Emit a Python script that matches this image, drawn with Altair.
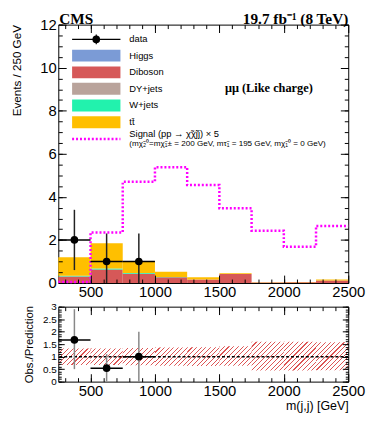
import math
import altair as alt
import pandas as pd

# ---------------- data ----------------
bin_lo = [250, 500, 750, 1000, 1250, 1500, 1750, 2000, 2250]
bin_hi = [500, 750, 1000, 1250, 1500, 1750, 2000, 2250, 2500]
diboson = [0.30, 0.63, 0.43, 0.27, 0.16, 0.42, 0.02, 0.03, 0.12]
dyjets = [0.0, 0.0, 0.0, 0.0, 0.0, 0.0, 0.0, 0.0, 0.0]
wjets = [0.04, 0.04, 0.03, 0.01, 0.0, 0.0, 0.0, 0.0, 0.0]
higgs = [0.0, 0.0, 0.0, 0.0, 0.0, 0.0, 0.0, 0.0, 0.0]
ttbar = [0.86, 1.18, 0.54, 0.24, 0.11, 0.03, 0.02, 0.02, 0.04]
signal = [0.05, 2.35, 4.70, 5.38, 4.55, 3.47, 2.43, 1.68, 2.65]

data_x = [375, 625, 875]
data_xlo = [250, 500, 750]
data_xhi = [500, 750, 1000]
data_y = [2, 1, 1]
data_lo = [0.6, 0.0, 0.0]
data_hi = [3.4, 2.3, 2.3]

ratio_y = [1.67, 0.54, 1.0]
ratio_lo = [0.5, 0.0, 0.0]
ratio_hi = [2.9, 1.1, 2.0]
band_lo = [0.67, 0.67, 0.66, 0.64, 0.63, 0.64, 0.45, 0.45, 0.46]
band_hi = [1.33, 1.33, 1.35, 1.37, 1.38, 1.42, 1.60, 1.60, 1.58]

proc_names = ["Higgs", "Diboson", "DY+jets", "W+jets", "tt\u0304"]
proc_colors = ["#7b9bd6", "#d65858", "#b9a39b", "#22f2ad", "#ffbf00"]
stack_order = ["Diboson", "DY+jets", "W+jets", "Higgs", "tt\u0304"]
proc_values = {"Higgs": higgs, "Diboson": diboson, "DY+jets": dyjets,
               "W+jets": wjets, "tt\u0304": ttbar}

x_major = [500, 1000, 1500, 2000, 2500]
x_minor = list(range(300, 2500, 100))
y_major = [0, 2, 4, 6, 8, 10, 12]
y_minor = [v / 2 for v in range(0, 25)]
r_major = [0, 0.5, 1, 1.5, 2, 2.5, 3]
r_minor = [v / 10 for v in range(0, 31)]

# ---------------- frames ----------------
rows = []
cum = [0.0] * 9
for p in stack_order:
    vals = proc_values[p]
    for i in range(9):
        rows.append(dict(proc=p, lo=bin_lo[i], hi=bin_hi[i], y0=cum[i], y1=cum[i] + vals[i]))
        cum[i] += vals[i]
stack_df = pd.DataFrame(rows)

sig_df = pd.DataFrame({"x": bin_lo + [bin_hi[-1]], "y": signal + [signal[-1]]})
dat_df = pd.DataFrame(dict(x=data_x, xlo=data_xlo, xhi=data_xhi, y=data_y, lo=data_lo, hi=data_hi))
rat_df = pd.DataFrame(dict(x=data_x, xlo=data_xlo, xhi=data_xhi, y=ratio_y, lo=ratio_lo, hi=ratio_hi))
dummy = pd.DataFrame({"x": [250], "y": [0]})

PW, PH = 294, 262
RW, RH = 294, 76
FONT = "Liberation Sans"
SERIF = "Liberation Serif"

xs = alt.Scale(domain=[250, 2500], nice=False, zero=False)
ys = alt.Scale(domain=[0, 12], nice=False)
rys = alt.Scale(domain=[0, 3], nice=False)


def ax(orient, values, size, labels=False, **kw):
    a = dict(orient=orient, values=values, tickSize=size, offset=-size, domain=False,
             grid=False, ticks=True, tickColor="black", tickWidth=1, labels=labels,
             zindex=1, title=None)
    if labels:
        a.update(labelFont=FONT, labelColor="black", labelFlush=False,
                 labelOverlap=False, labelPadding=2)
    a.update(kw)
    return alt.Axis(**a)


def axis_layers(ysc, ymaj, ymin, ymajlen, yminlen, xlab, ylab, xkw, ykw, yfmt):
    L = []
    L.append(alt.Chart(dummy).mark_point(opacity=0).encode(
        x=alt.X("x:Q", scale=xs, axis=ax("bottom", x_major, 8, labels=True,
                                          labelFontSize=xlab, format="d", **xkw)),
        y=alt.Y("y:Q", scale=ysc, axis=ax("left", ymaj, ymajlen, labels=True,
                                           labelFontSize=ylab, format=yfmt, **ykw))))
    L.append(alt.Chart(dummy).mark_point(opacity=0).encode(
        x=alt.X("x:Q", scale=xs, axis=ax("bottom", x_minor, 4)),
        y=alt.Y("y:Q", scale=ysc, axis=ax("left", ymin, yminlen))))
    L.append(alt.Chart(dummy).mark_point(opacity=0).encode(
        x=alt.X("x:Q", scale=xs, axis=ax("top", x_major, 8)),
        y=alt.Y("y:Q", scale=ysc, axis=ax("right", ymaj, ymajlen))))
    L.append(alt.Chart(dummy).mark_point(opacity=0).encode(
        x=alt.X("x:Q", scale=xs, axis=ax("top", x_minor, 4)),
        y=alt.Y("y:Q", scale=ysc, axis=ax("right", ymin, yminlen))))
    return L


# ---------------- top panel ----------------
bars = alt.Chart(stack_df).mark_rect().encode(
    x=alt.X("lo:Q", scale=xs, axis=None), x2="hi",
    y=alt.Y("y0:Q", scale=ys, axis=None), y2="y1",
    color=alt.Color("proc:N", scale=alt.Scale(domain=proc_names, range=proc_colors), legend=None))

sig = alt.Chart(sig_df).mark_line(interpolate="step-after", color="#ff00ff",
                                  strokeDash=[2, 2], strokeWidth=2.5).encode(
    x=alt.X("x:Q", scale=xs, axis=None), y=alt.Y("y:Q", scale=ys, axis=None))

d_v = alt.Chart(dat_df).mark_rule(color="#222222", strokeWidth=1.5).encode(
    x=alt.X("x:Q", scale=xs, axis=None), y=alt.Y("lo:Q", scale=ys, axis=None), y2="hi")
d_h = alt.Chart(dat_df).mark_rule(color="black", strokeWidth=1.5).encode(
    x=alt.X("xlo:Q", scale=xs, axis=None), x2="xhi", y=alt.Y("y:Q", scale=ys, axis=None))
d_p = alt.Chart(dat_df).mark_circle(color="black", opacity=1, size=60).encode(
    x=alt.X("x:Q", scale=xs, axis=None), y=alt.Y("y:Q", scale=ys, axis=None))

legend = []
lx0, lx1, lxc, ltx = 14, 63, 38.5, 72
LFS = 9.5
one = pd.DataFrame({"label": ["data"]})
legend.append(alt.Chart(one).mark_rule(color="black", strokeWidth=1.2).encode(
    x=alt.value(lx0), x2=alt.value(lx1), y=alt.value(15)))
legend.append(alt.Chart(one).mark_rule(color="black", strokeWidth=1.2).encode(
    x=alt.value(lxc), y=alt.value(10), y2=alt.value(20)))
legend.append(alt.Chart(one).mark_circle(color="black", opacity=1, size=60).encode(
    x=alt.value(lxc), y=alt.value(15)))
legend.append(alt.Chart(one).mark_text(align="left", baseline="middle", font=FONT,
                                       fontSize=LFS, color="black").encode(
    x=alt.value(ltx), y=alt.value(15), text="label:N"))
centers = [31.5, 48.5, 65, 82, 99]
for name, col, yc in zip(proc_names, proc_colors, centers):
    df = pd.DataFrame({"label": [name]})
    legend.append(alt.Chart(df).mark_rect(color=col).encode(
        x=alt.value(lx0), x2=alt.value(lx1), y=alt.value(yc - 6), y2=alt.value(yc + 6)))
    legend.append(alt.Chart(df).mark_text(align="left", baseline="middle", font=FONT,
                                          fontSize=LFS, color="black").encode(
        x=alt.value(ltx), y=alt.value(yc), text="label:N"))
sdf = pd.DataFrame({"label": ["Signal (pp \u2192 \u03c7\u0303\u03c7\u0303jj) \u00d7 5"],
                    "label2": ["(m\u03c7\u0303\u2082\u2070=m\u03c7\u0303\u2081\u00b1 = 200 GeV, m\u03c4\u0303\u2081 = 195 GeV, m\u03c7\u0303\u2081\u2070 = 0 GeV)"]})
legend.append(alt.Chart(sdf).mark_rule(color="#ff00ff", strokeDash=[2, 2], strokeWidth=2.5).encode(
    x=alt.value(lx0), x2=alt.value(lx1), y=alt.value(116)))
legend.append(alt.Chart(sdf).mark_text(align="left", baseline="middle", font=FONT,
                                       fontSize=LFS, color="black").encode(
    x=alt.value(ltx), y=alt.value(110.5), text="label:N"))
legend.append(alt.Chart(sdf).mark_text(align="left", baseline="middle", font=FONT,
                                       fontSize=8.2, color="black").encode(
    x=alt.value(ltx), y=alt.value(121), text="label2:N"))

tdf = pd.DataFrame({"cms": ["CMS"], "lumi": ["19.7 fb\u207b\u00b9 (8 TeV)"],
                    "chan": ["\u03bc\u03bc (Like charge)"]})
texts = [
    alt.Chart(tdf).mark_text(align="left", baseline="alphabetic", font=SERIF, fontWeight="bold",
                             fontSize=15.5, color="black").encode(
        x=alt.value(1), y=alt.value(-1), text="cms:N"),
    alt.Chart(tdf).mark_text(align="right", baseline="alphabetic", font=SERIF, fontWeight="bold",
                             fontSize=15.5, color="black").encode(
        x=alt.value(PW), y=alt.value(-1), text="lumi:N"),
    alt.Chart(tdf).mark_text(align="left", baseline="middle", font=SERIF, fontWeight="bold",
                             fontSize=12.5, color="black").encode(
        x=alt.value(169), y=alt.value(64), text="chan:N"),
]

top_axes = axis_layers(ys, y_major, y_minor, 8, 4, 15, 15, {},
                       dict(title="Events / 250 GeV", titleFont=FONT, titleFontSize=11.8,
                            titleFontWeight="normal", titleColor="black", titleAnchor="end",
                            titlePadding=18), "d")

top = alt.layer(bars, sig, d_v, d_h, d_p, *legend, *texts, *top_axes).resolve_axis(
    x="independent", y="independent").properties(width=PW, height=PH)

# ---------------- ratio panel ----------------
band_layers = []
RED = "#dd5555"
CLEAR = "rgba(255,255,255,0)"
for i in range(9):
    W = RW / 9.0
    H = (band_hi[i] - band_lo[i]) * RH / 3.0
    k = (W + H) / (W * W + H * H)
    n = max(1, round((W + H) / math.sqrt(2) / 3.4))
    stops = []
    for j in range(n):
        a = j / n
        b = a + 0.24 / n
        c = (j + 1) / n
        stops += [alt.GradientStop(offset=a, color=RED), alt.GradientStop(offset=b, color=RED),
                  alt.GradientStop(offset=b, color=CLEAR), alt.GradientStop(offset=c, color=CLEAR)]
    grad = alt.LinearGradient(gradient="linear", x1=0, y1=0, x2=k * W, y2=k * H, stops=stops)
    bdf = pd.DataFrame({"lo": [bin_lo[i]], "hi": [bin_hi[i]], "y0": [band_lo[i]], "y1": [band_hi[i]]})
    band_layers.append(alt.Chart(bdf).mark_rect(fill=grad, strokeWidth=0).encode(
        x=alt.X("lo:Q", scale=xs, axis=None), x2="hi",
        y=alt.Y("y0:Q", scale=rys, axis=None), y2="y1"))

one_line = alt.Chart(pd.DataFrame({"y": [1]})).mark_rule(
    color="black", strokeDash=[3, 2], strokeWidth=1.5).encode(
    y=alt.Y("y:Q", scale=rys, axis=None))
r_v = alt.Chart(rat_df).mark_rule(color="#888888", strokeWidth=1.5).encode(
    x=alt.X("x:Q", scale=xs, axis=None), y=alt.Y("lo:Q", scale=rys, axis=None), y2="hi")
r_h = alt.Chart(rat_df).mark_rule(color="black", strokeWidth=1.5).encode(
    x=alt.X("xlo:Q", scale=xs, axis=None), x2="xhi", y=alt.Y("y:Q", scale=rys, axis=None))
r_p = alt.Chart(rat_df).mark_circle(color="black", opacity=1, size=60).encode(
    x=alt.X("x:Q", scale=xs, axis=None), y=alt.Y("y:Q", scale=rys, axis=None))

rat_axes = axis_layers(rys, r_major, r_minor, 6, 3, 15, 10,
                       dict(title="m(j,j) [GeV]", titleFont=FONT, titleFontSize=12.6,
                            titleFontWeight="normal", titleColor="black", titleAnchor="end",
                            titlePadding=1),
                       dict(title="Obs./Prediction", titleFont=FONT, titleFontSize=11.5,
                            titleFontWeight="normal", titleColor="black", titleAnchor="middle",
                            titlePadding=8), "~g")

ratio = alt.layer(*band_layers, one_line, r_v, r_h, r_p, *rat_axes).resolve_axis(
    x="independent", y="independent").properties(width=RW, height=RH)

chart = alt.vconcat(top, ratio, spacing=0).properties(
    padding={"left": 2, "top": 0, "right": 0, "bottom": 0},
    background="white").configure_view(stroke="black", strokeWidth=1)

chart.save("out.html", embed_options={"renderer": "svg", "actions": False})
